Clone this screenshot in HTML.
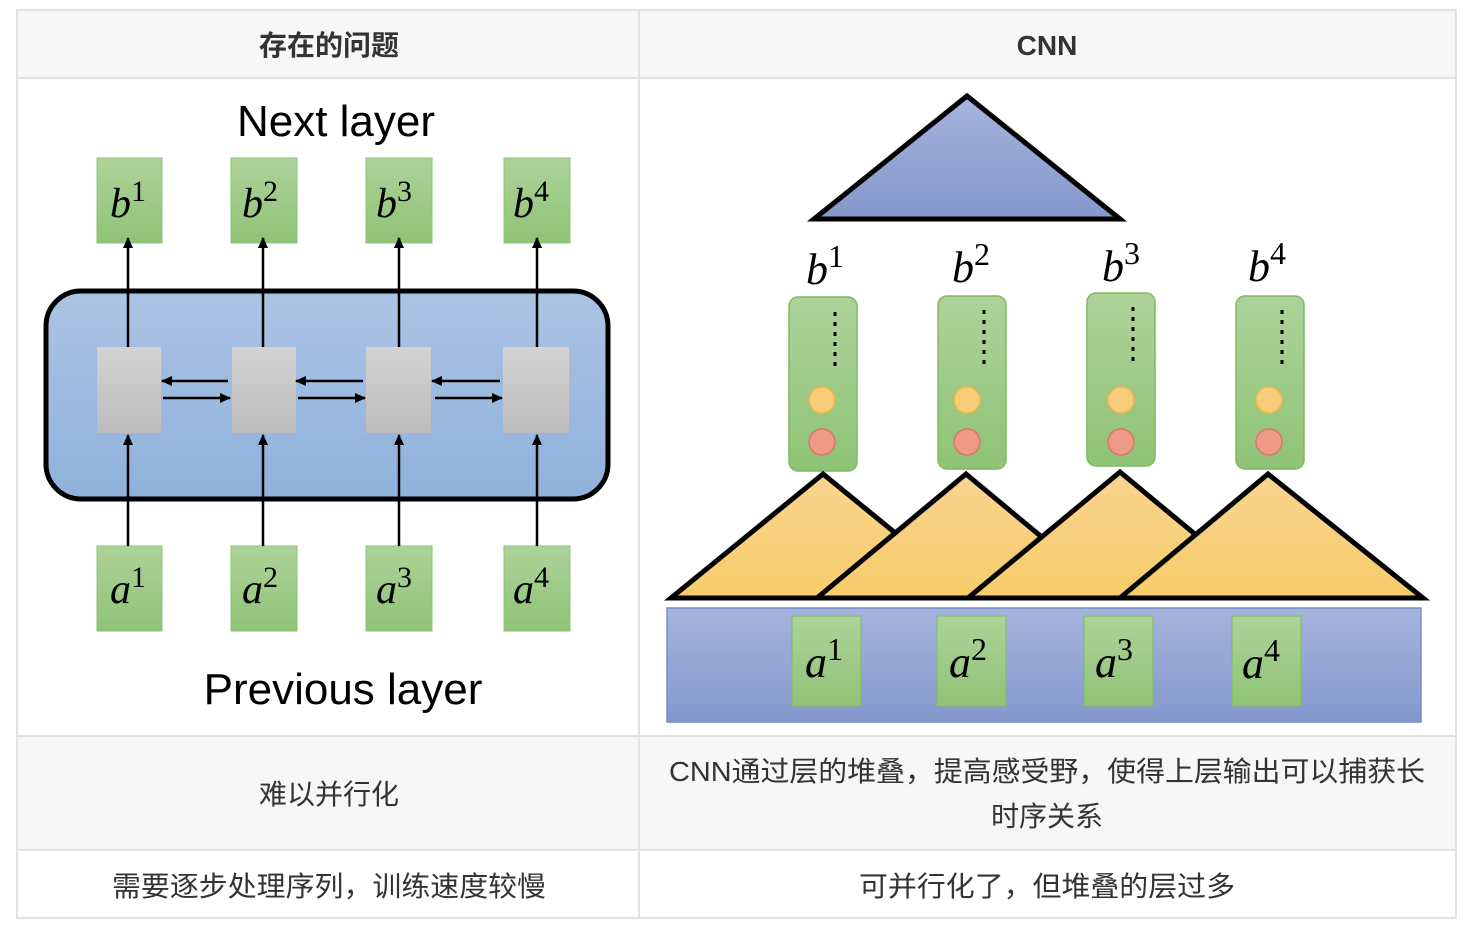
<!DOCTYPE html>
<html><head><meta charset="utf-8"><style>
html,body{margin:0;padding:0;background:#fff;}
svg{display:block;}
.cjk{font-family:"Liberation Sans","Noto Sans CJK SC",sans-serif;}
.m{font-family:"Liberation Serif","DejaVu Serif",serif;font-style:italic;}
</style></head><body>
<svg width="1470" height="925" viewBox="0 0 1470 925" xmlns="http://www.w3.org/2000/svg">
<defs>
<linearGradient id="g" x1="0" y1="0" x2="0" y2="1"><stop offset="0" stop-color="#add39a"/><stop offset="1" stop-color="#8fc375"/></linearGradient>
<linearGradient id="gr" x1="0" y1="0" x2="0" y2="1"><stop offset="0" stop-color="#d3d3d3"/><stop offset="1" stop-color="#bcbcbc"/></linearGradient>
<linearGradient id="bl" x1="0" y1="0" x2="0" y2="1"><stop offset="0" stop-color="#abc4e4"/><stop offset="1" stop-color="#8fb1db"/></linearGradient>
<linearGradient id="pu" x1="0" y1="0" x2="0" y2="1"><stop offset="0" stop-color="#a6b3dc"/><stop offset="1" stop-color="#8497cd"/></linearGradient>
<linearGradient id="ye" x1="0" y1="0" x2="0" y2="1"><stop offset="0" stop-color="#f9d48f"/><stop offset="1" stop-color="#f8cc6a"/></linearGradient>
<marker id="ar" markerWidth="11" markerHeight="10" refX="10" refY="5" orient="auto" markerUnits="userSpaceOnUse"><path d="M0,0 L11,5 L0,10 z" fill="#000"/></marker>
</defs>
<rect x="17" y="10" width="1439" height="68" fill="#f7f7f7"/>
<rect x="17" y="736" width="1439" height="114" fill="#f7f7f7"/>
<g stroke="#e2e2e2" stroke-width="2" fill="none">
<rect x="17" y="10" width="1439" height="908"/>
<line x1="17" y1="78" x2="1456" y2="78"/>
<line x1="17" y1="736" x2="1456" y2="736"/>
<line x1="17" y1="850" x2="1456" y2="850"/>
<line x1="639" y1="10" x2="639" y2="918"/>
</g>
<g class="cjk" fill="#333" font-size="28" text-anchor="middle">
<text x="329" y="55" font-weight="bold">存在的问题</text>
<text x="1047" y="55" font-weight="bold">CNN</text>
<text x="329" y="804">难以并行化</text>
<text x="1047" y="781" textLength="756" lengthAdjust="spacingAndGlyphs">CNN通过层的堆叠，提高感受野，使得上层输出可以捕获长</text>
<text x="1047" y="826">时序关系</text>
<text x="329" y="896" textLength="434" lengthAdjust="spacingAndGlyphs">需要逐步处理序列，训练速度较慢</text>
<text x="1047" y="896" textLength="376" lengthAdjust="spacingAndGlyphs">可并行化了，但堆叠的层过多</text>
</g>
<text x="336" y="136" font-family="Liberation Sans,DejaVu Sans,sans-serif" font-size="44" text-anchor="middle" fill="#000">Next layer</text>
<text x="343" y="704" font-family="Liberation Sans,DejaVu Sans,sans-serif" font-size="44" text-anchor="middle" fill="#000">Previous layer</text>
<rect x="46" y="291" width="562" height="208" rx="35" fill="url(#bl)" stroke="#000" stroke-width="5"/>
<g fill="url(#g)" stroke="#8cc177" stroke-width="1">
<rect x="97" y="158" width="65" height="85"/><rect x="231" y="158" width="66" height="85"/><rect x="366" y="158" width="66" height="85"/><rect x="504" y="158" width="66" height="85"/>
<rect x="97" y="546" width="65" height="85"/><rect x="231" y="546" width="66" height="85"/><rect x="366" y="546" width="66" height="85"/><rect x="504" y="546" width="66" height="85"/>
</g>
<g fill="url(#gr)"><rect x="97" y="347" width="64" height="86"/><rect x="232" y="347" width="64" height="86"/><rect x="366" y="347" width="65" height="86"/><rect x="503" y="347" width="66" height="86"/></g>
<g stroke="#000" stroke-width="2.5" marker-end="url(#ar)">
<line x1="128" y1="347" x2="128" y2="238"/><line x1="263" y1="347" x2="263" y2="238"/><line x1="399" y1="347" x2="399" y2="238"/><line x1="537" y1="347" x2="537" y2="238"/>
<line x1="128" y1="546" x2="128" y2="435"/><line x1="263" y1="546" x2="263" y2="435"/><line x1="399" y1="546" x2="399" y2="435"/><line x1="537" y1="546" x2="537" y2="435"/>
<line x1="228" y1="381" x2="162" y2="381"/><line x1="163" y1="398" x2="230" y2="398"/>
<line x1="363" y1="381" x2="296" y2="381"/><line x1="298" y1="398" x2="365" y2="398"/>
<line x1="500" y1="381" x2="432" y2="381"/><line x1="435" y1="398" x2="502" y2="398"/>
</g>
<g class="m" font-size="42" fill="#000">
<text x="110" y="217">b<tspan font-size="30" font-style="normal" dy="-16">1</tspan></text>
<text x="242" y="217">b<tspan font-size="30" font-style="normal" dy="-16">2</tspan></text>
<text x="376" y="217">b<tspan font-size="30" font-style="normal" dy="-16">3</tspan></text>
<text x="513" y="217">b<tspan font-size="30" font-style="normal" dy="-16">4</tspan></text>
<text x="110" y="603">a<tspan font-size="30" font-style="normal" dy="-16">1</tspan></text>
<text x="242" y="603">a<tspan font-size="30" font-style="normal" dy="-16">2</tspan></text>
<text x="376" y="603">a<tspan font-size="30" font-style="normal" dy="-16">3</tspan></text>
<text x="513" y="603">a<tspan font-size="30" font-style="normal" dy="-16">4</tspan></text>
</g>
<polygon points="967,96 814,219 1120,219" fill="url(#pu)" stroke="#000" stroke-width="5" stroke-linejoin="miter"/>
<g class="m" font-size="44" fill="#000">
<text x="806" y="284">b<tspan font-size="32" font-style="normal" dy="-17">1</tspan></text>
<text x="952" y="282">b<tspan font-size="32" font-style="normal" dy="-17">2</tspan></text>
<text x="1102" y="281">b<tspan font-size="32" font-style="normal" dy="-17">3</tspan></text>
<text x="1248" y="281">b<tspan font-size="32" font-style="normal" dy="-17">4</tspan></text>
</g>
<g fill="url(#g)" stroke="#7fba62" stroke-width="1.5">
<rect x="789" y="297" width="68" height="174" rx="9"/><rect x="938" y="296" width="68" height="173" rx="9"/><rect x="1087" y="293" width="68" height="173" rx="9"/><rect x="1236" y="296" width="68" height="173" rx="9"/>
</g>
<g stroke="#000" stroke-width="3" stroke-dasharray="4,6">
<line x1="835" y1="312" x2="835" y2="372"/><line x1="984" y1="310" x2="984" y2="370"/><line x1="1133" y1="307" x2="1133" y2="367"/><line x1="1282" y1="310" x2="1282" y2="370"/>
</g>
<g fill="#f9cc7a" stroke="#f0b64a" stroke-width="1.5">
<ellipse cx="822" cy="400" rx="13" ry="13"/><ellipse cx="967" cy="400" rx="13" ry="13"/><ellipse cx="1121" cy="400" rx="13" ry="13"/><ellipse cx="1269" cy="400" rx="13" ry="13"/>
</g>
<g fill="#ee9a88" stroke="#db7868" stroke-width="1.5">
<ellipse cx="822" cy="442" rx="13" ry="13"/><ellipse cx="967" cy="442" rx="13" ry="13"/><ellipse cx="1121" cy="442" rx="13" ry="13"/><ellipse cx="1269" cy="442" rx="13" ry="13"/>
</g>
<g fill="url(#ye)" stroke="#000" stroke-width="5" stroke-linejoin="miter">
<polygon points="823,474 671,598 975,598"/>
<polygon points="966,474 817,598 1115,598"/>
<polygon points="1120,472 968,598 1272,598"/>
<polygon points="1268,474 1120,598 1423,598"/>
</g>
<rect x="667" y="608" width="754" height="114" fill="url(#pu)" stroke="#7a8cc6" stroke-width="1.5"/>
<g fill="url(#g)" stroke="#7fba62" stroke-width="1">
<rect x="792" y="616" width="69" height="90"/><rect x="937" y="616" width="69" height="90"/><rect x="1084" y="616" width="69" height="90"/><rect x="1232" y="616" width="69" height="90"/>
</g>
<g class="m" font-size="44" fill="#000">
<text x="805" y="677">a<tspan font-size="32" font-style="normal" dy="-17">1</tspan></text>
<text x="949" y="677">a<tspan font-size="32" font-style="normal" dy="-17">2</tspan></text>
<text x="1095" y="677">a<tspan font-size="32" font-style="normal" dy="-17">3</tspan></text>
<text x="1242" y="678">a<tspan font-size="32" font-style="normal" dy="-17">4</tspan></text>
</g>
</svg>
</body></html>
